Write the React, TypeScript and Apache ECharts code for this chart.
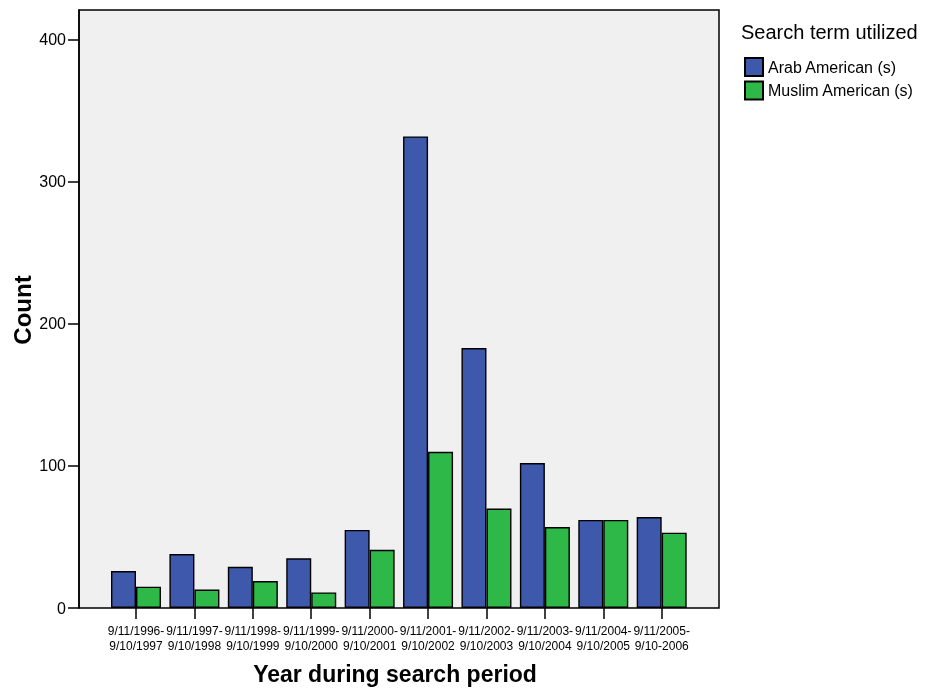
import React, { useEffect, useRef } from "react";
import * as echarts from "echarts";

const categories = [
  "9/11/1996-\n9/10/1997",
  "9/11/1997-\n9/10/1998",
  "9/11/1998-\n9/10/1999",
  "9/11/1999-\n9/10/2000",
  "9/11/2000-\n9/10/2001",
  "9/11/2001-\n9/10/2002",
  "9/11/2002-\n9/10/2003",
  "9/11/2003-\n9/10/2004",
  "9/11/2004-\n9/10/2005",
  "9/11/2005-\n9/10-2006",
];
const arabAmerican = [26, 38, 29, 35, 55, 332, 183, 102, 62, 64];
const muslimAmerican = [15, 13, 19, 11, 41, 110, 70, 57, 62, 53];
const yTicks = [0, 100, 200, 300, 400];
const seriesNames = ["Arab American (s)", "Muslim American (s)"];
const legendTitle = "Search term utilized";
const xTitle = "Year during search period";
const yTitle = "Count";

const FONT = "'Liberation Sans', Arial, sans-serif";

export default function App() {
  const ref = useRef<HTMLDivElement>(null);
  useEffect(() => {
    if (!ref.current) return;
    const chart = echarts.init(ref.current, null, { renderer: "svg" });
    const yMax = 421;
    const gridTop = 10;
    const gridHeight = 598;
    chart.setOption({
      animation: false,
      textStyle: { fontFamily: FONT },
      grid: [
        {
          left: 79,
          top: gridTop,
          width: 640,
          height: gridHeight,
          show: true,
          backgroundColor: "#f0f0f0",
          borderColor: "#000",
          borderWidth: 1.5,
        },
        {
          left: 106.8,
          top: gridTop,
          width: 584.1,
          height: gridHeight,
        },
      ],
      xAxis: [
        { type: "value", gridIndex: 0, show: false, min: 0, max: 1 },
        {
          type: "category",
          gridIndex: 1,
          data: categories,
          axisLine: { show: false },
          axisTick: {
            show: true,
            alignWithLabel: true,
            length: 11,
            lineStyle: { color: "#000", width: 1.5 },
          },
          axisLabel: {
            color: "#000",
            fontSize: 12,
            lineHeight: 15,
            margin: 15,
            interval: 0,
            fontFamily: FONT,
          },
          splitLine: { show: false },
        },
      ],
      yAxis: [
        {
          type: "value",
          gridIndex: 0,
          min: 0,
          max: yMax,
          axisLine: { show: true, lineStyle: { color: "#000", width: 1.5 } },
          axisTick: {
            show: true,
            length: 11,
            customValues: yTicks,
            lineStyle: { color: "#000", width: 1.5 },
          },
          axisLabel: {
            color: "#000",
            fontSize: 16,
            margin: 13,
            customValues: yTicks,
            fontFamily: FONT,
          },
          splitLine: { show: false },
        },
        {
          type: "value",
          gridIndex: 1,
          min: 0,
          max: yMax,
          show: false,
          splitLine: { show: false },
        },
      ],
      legend: {
        orient: "vertical",
        left: 744,
        top: 57,
        padding: 0,
        itemWidth: 18,
        itemHeight: 18,
        itemGap: 3.5,
        icon: "rect",
        data: seriesNames,
        textStyle: { color: "#000", fontSize: 16, fontFamily: FONT },
      },
      graphic: [
        {
          type: "text",
          left: 741,
          top: 22,
          style: { text: legendTitle, fontSize: 20, fill: "#000", fontFamily: FONT },
        },
        {
          type: "text",
          x: 395,
          y: 674,
          style: {
            text: xTitle,
            fontSize: 23,
            fontWeight: "bold",
            fill: "#000",
            fontFamily: FONT,
            align: "center",
            verticalAlign: "middle",
          },
        },
        {
          type: "text",
          x: 22,
          y: 310,
          rotation: Math.PI / 2,
          style: {
            text: yTitle,
            fontSize: 24,
            fontWeight: "bold",
            fill: "#000",
            fontFamily: FONT,
            align: "center",
            verticalAlign: "middle",
          },
        },
      ],
      series: [
        {
          name: seriesNames[0],
          type: "bar",
          xAxisIndex: 1,
          yAxisIndex: 1,
          data: arabAmerican,
          barWidth: 25,
          barGap: "0%",
          itemStyle: { color: "#3e58ac", borderColor: "#000", borderWidth: 1.4 },
        },
        {
          name: seriesNames[1],
          type: "bar",
          xAxisIndex: 1,
          yAxisIndex: 1,
          data: muslimAmerican,
          barWidth: 25,
          barGap: "0%",
          itemStyle: { color: "#2eb848", borderColor: "#000", borderWidth: 1.4 },
        },
      ],
    });
    return () => chart.dispose();
  }, []);
  return (
    <div
      ref={ref}
      style={{ position: "fixed", left: 0, top: 0, width: 929, height: 689 }}
    />
  );
}
